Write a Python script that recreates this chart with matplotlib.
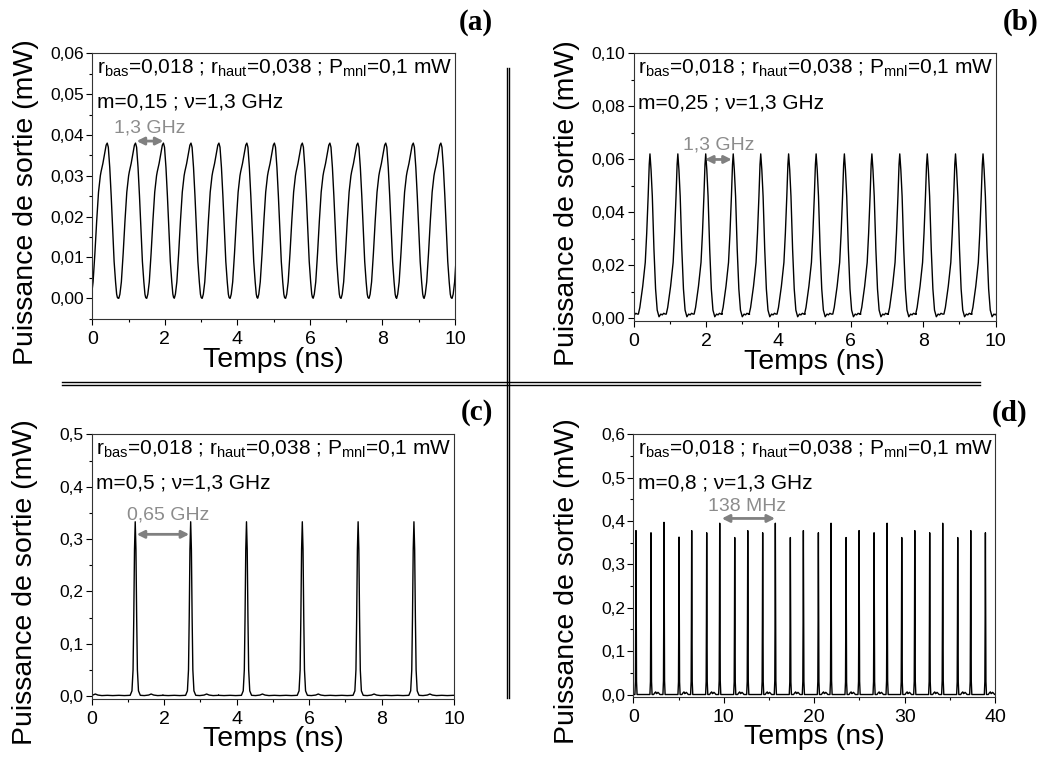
import matplotlib
matplotlib.use("Agg")
import matplotlib.pyplot as plt
from matplotlib.lines import Line2D
from matplotlib.ticker import FuncFormatter, MultipleLocator
import numpy as np

plt.rcParams['font.family'] = ['Liberation Sans', 'DejaVu Sans']
plt.rcParams['mathtext.fontset'] = 'custom'
plt.rcParams['mathtext.rm'] = 'Liberation Sans'
plt.rcParams['mathtext.it'] = 'Liberation Sans:italic'

# ---- data ----
# (a) m=0,15 : one period of the pulse (offset from peak in ns, power in mW)
a_off = [-0.46, -0.43, -0.39, -0.34, -0.29, -0.24, -0.19, -0.17, -0.12, -0.07, -0.03, 0.0,
         0.03, 0.07, 0.11, 0.15, 0.19, 0.23, 0.26, 0.28, 0.30]
a_val = [0.000, 0.001, 0.004, 0.011, 0.019, 0.026, 0.030, 0.031, 0.033, 0.0355, 0.0375, 0.038,
         0.037, 0.032, 0.025, 0.017, 0.009, 0.004, 0.001, 0.0002, 0.000]
# peak times (last one sits just past the window)
a_peaks = [0.41, 1.19, 1.96, 2.72, 3.49, 4.26, 5.02, 5.79, 6.55, 7.32, 8.09, 8.85, 9.61, 10.38]

# (b) m=0,25
b_off = [-0.32, -0.28, -0.24, -0.20, -0.17, -0.13, -0.09, -0.05, -0.02, 0.0,
         0.03, 0.065, 0.11, 0.155, 0.20, 0.25, 0.30, 0.34, 0.38, 0.42, 0.45]
b_val = [0.0015, 0.004, 0.008, 0.012, 0.016, 0.021, 0.032, 0.046, 0.058, 0.062,
         0.056, 0.046, 0.026, 0.011, 0.003, 0.0005, 0.0015, 0.0012, 0.0018, 0.0015, 0.0015]
b_peaks = [-0.32, 0.45, 1.22, 1.99, 2.75, 3.51, 4.28, 5.04, 5.82, 6.58, 7.35, 8.11, 8.89, 9.65]

# (c) m=0,5
c_off = [-0.77, -0.62, -0.45, -0.30, -0.14, -0.09, -0.06, -0.04, -0.02, 0.0,
         0.02, 0.04, 0.06, 0.09, 0.14, 0.25, 0.37, 0.44, 0.51, 0.62, 0.77]
c_val = [0.0015, 0.001, 0.0015, 0.001, 0.0015, 0.010, 0.050, 0.150, 0.280, 0.333,
         0.280, 0.150, 0.050, 0.010, 0.0015, 0.001, 0.002, 0.004, 0.002, 0.001, 0.0015]
c_peaks = [-0.34, 1.20, 2.73, 4.27, 5.81, 7.35, 8.89, 10.43]

# (d) m=0,8 : spikes of varying height, small bumps in the short gaps
d_spike_off = [-0.12, -0.06, -0.03, 0.0, 0.03, 0.06, 0.12]
d_spike_rel = [0.0, 0.08, 0.45, 1.0, 0.45, 0.08, 0.0]
d_peaks = [0.29, 1.95, 3.39, 5.05, 6.45, 8.11, 9.55, 11.21, 12.65, 14.30, 15.70, 17.36, 18.80,
           20.46, 21.86, 23.52, 24.96, 26.62, 28.06, 29.68, 31.12, 32.77, 34.21, 35.87, 37.31, 38.93]
d_heights = [0.378, 0.373, 0.397, 0.363, 0.378, 0.373, 0.395, 0.362, 0.378, 0.373, 0.395, 0.362,
             0.378, 0.373, 0.395, 0.362, 0.378, 0.373, 0.395, 0.362, 0.378, 0.373, 0.395, 0.362,
             0.378, 0.373]
d_bump_off = [-0.35, -0.22, -0.12, -0.04, 0.05, 0.13, 0.23, 0.35]
d_bump_val = [0.0, 0.004, 0.006, 0.002, 0.003, 0.005, 0.003, 0.0]
d_bumps = [2.59, 5.72, 8.78, 11.88, 14.93, 18.07, 21.15, 24.2, 27.3, 30.4, 33.45, 36.55, 39.6]
d_base_t = [0.0, 40.0]
d_base_p = [0.0, 0.0]

info = r"r$_{\mathrm{bas}}$=0,018 ; r$_{\mathrm{haut}}$=0,038 ; P$_{\mathrm{mnl}}$=0,1 mW"
panels = [
    dict(tag="(a)", m="m=0,15 ; ν=1,3 GHz", xmax=10, xstep=2, ylim=(-0.005, 0.06), ystep=0.01, dec=2,
         arrow=(1.22, 1.96, 0.0385), note="1,3 GHz", note_xy=(1.59, 0.0407)),
    dict(tag="(b)", m="m=0,25 ; ν=1,3 GHz", xmax=10, xstep=2, ylim=(-0.001, 0.10), ystep=0.02, dec=2,
         arrow=(1.97, 2.71, 0.0599), note="1,3 GHz", note_xy=(2.34, 0.0637)),
    dict(tag="(c)", m="m=0,5 ; ν=1,3 GHz", xmax=10, xstep=2, ylim=(-0.005, 0.5), ystep=0.1, dec=1,
         arrow=(1.24, 2.69, 0.309), note="0,65 GHz", note_xy=(2.11, 0.337)),
    dict(tag="(d)", m="m=0,8 ; ν=1,3 GHz", xmax=40, xstep=10, ylim=(-0.005, 0.6), ystep=0.1, dec=1,
         arrow=(9.78, 15.67, 0.406), note="138 MHz", note_xy=(12.54, 0.423)),
]


def tile(peaks, off, val, scale=None):
    ts, ps = [], []
    for i, p in enumerate(peaks):
        k = 1.0 if scale is None else scale[i]
        ts += [p + o for o in off]
        ps += [v * k for v in val]
    return ts, ps


curves = []
curves.append(tile(a_peaks, a_off, a_val))
curves.append(tile(b_peaks, b_off, b_val))
curves.append(tile(c_peaks, c_off, c_val))
t1, p1 = tile(d_peaks, d_spike_off, d_spike_rel, d_heights)
t2, p2 = tile(d_bumps, d_bump_off, d_bump_val)
td = np.array(t1 + t2 + d_base_t)
pd_ = np.array(p1 + p2 + d_base_p)
order = np.argsort(td, kind="stable")
curves.append((td[order], pd_[order]))

fig = plt.figure(figsize=(10.4, 7.58), dpi=100)
rects = [[0.0888, 0.5796, 0.3487, 0.3501],
         [0.6093, 0.5769, 0.3481, 0.3528],
         [0.0882, 0.0782, 0.3485, 0.3488],
         [0.6090, 0.0809, 0.3478, 0.3461]]
tag_pos = [(0.474, 0.970), (0.999, 0.970), (0.474, 0.456), (0.988, 0.455)]

for cfg, rect, (t, p), tp in zip(panels, rects, curves, tag_pos):
    ax = fig.add_axes(rect)
    ax.plot(t, p, color="black", lw=1.0)
    ax.set_xlim(0, cfg["xmax"])
    ax.set_ylim(*cfg["ylim"])
    ax.xaxis.set_major_locator(MultipleLocator(cfg["xstep"]))
    ax.xaxis.set_minor_locator(MultipleLocator(cfg["xstep"] / 2))
    ax.yaxis.set_major_locator(MultipleLocator(cfg["ystep"]))
    ax.yaxis.set_minor_locator(MultipleLocator(cfg["ystep"] / 2))
    dec = cfg["dec"]
    ax.yaxis.set_major_formatter(FuncFormatter(lambda v, _, d=dec: f"{v:.{d}f}".replace(".", ",").replace("-0,00", "0,00")))
    ax.xaxis.set_major_formatter(FuncFormatter(lambda v, _: f"{v:g}"))
    ax.tick_params(which="major", direction="out", length=4, width=0.8, pad=2)
    ax.tick_params(which="minor", direction="out", length=2.5, width=0.8)
    ax.tick_params(axis="y", which="major", labelsize=12.5)
    ax.tick_params(axis="x", which="major", labelsize=14, pad=5)
    for s in ax.spines.values():
        s.set_linewidth(0.8)
        s.set_color("#333333")
    ax.set_xlabel("Temps (ns)", fontsize=20.5)
    ax.set_ylabel("Puissance de sortie (mW)", fontsize=20.5)
    ax.xaxis.set_label_coords(0.5, -0.105)
    ax.yaxis.set_label_coords(-0.148, 0.44)
    ax.text(0.012, 0.922, info, transform=ax.transAxes, fontsize=15)
    ax.text(0.012, 0.794, cfg["m"], transform=ax.transAxes, fontsize=15)
    x0, x1, ya = cfg["arrow"]
    ax.annotate("", xy=(x1, ya), xytext=(x0, ya),
                arrowprops=dict(arrowstyle="<|-|>", color="#808080", lw=2.0, mutation_scale=11,
                                shrinkA=0, shrinkB=0))
    ax.text(cfg["note_xy"][0], cfg["note_xy"][1], cfg["note"], color="#8c8c8c", fontsize=14,
            ha="center", va="baseline")
    fig.text(tp[0], tp[1], cfg["tag"], family="Liberation Serif", weight="bold", fontsize=21,
             ha="right", va="center")

# double separating lines
for y in (0.49565, 0.49248):
    fig.add_artist(Line2D([0.0596, 0.9423], [y, y], color="black", lw=1.0))
for x in (0.4872, 0.4897):
    fig.add_artist(Line2D([x, x], [0.0792, 0.9103], color="black", lw=1.0))

fig.savefig("out.png", dpi=100)
